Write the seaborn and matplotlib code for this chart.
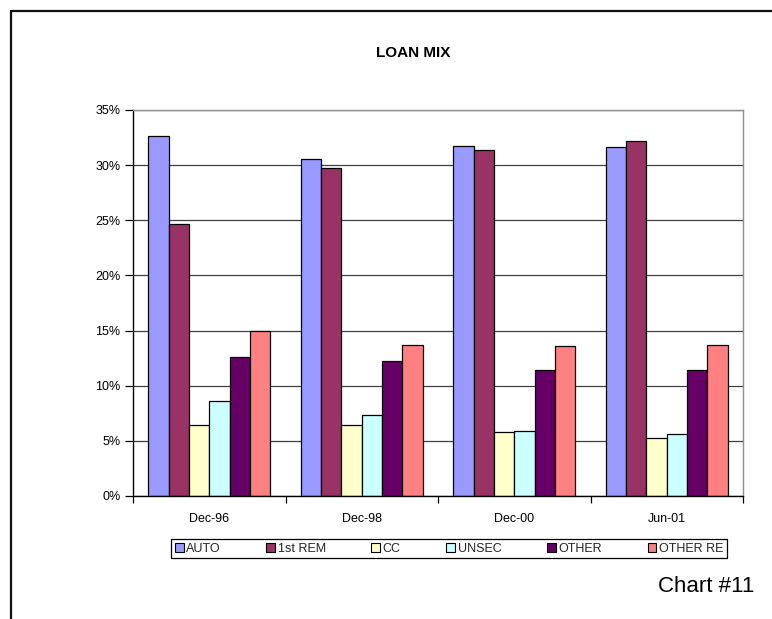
import matplotlib
matplotlib.use("Agg")
import matplotlib.pyplot as plt
import seaborn as sns
import pandas as pd
from matplotlib.patches import Patch
from matplotlib.lines import Line2D
from matplotlib.ticker import FuncFormatter, FixedLocator

# Loan portfolio composition by reporting period (percent of total loans)
periods = ["Dec-96", "Dec-98", "Dec-00", "Jun-01"]
loan_types = ["AUTO", "1st REM", "CC", "UNSEC", "OTHER", "OTHER RE"]
auto = [32.6, 30.6, 31.7, 31.6]
first_rem = [24.7, 29.7, 31.4, 32.2]
cc = [6.4, 6.4, 5.8, 5.3]
unsec = [8.6, 7.3, 5.9, 5.6]
other = [12.6, 12.2, 11.4, 11.4]
other_re = [15.0, 13.7, 13.6, 13.7]
y_ticks = [0, 5, 10, 15, 20, 25, 30, 35]
colors = ["#9999FF", "#993366", "#FFFFCC", "#CCFFFF", "#660066", "#FF8080"]

series = [auto, first_rem, cc, unsec, other, other_re]
rows = []
for name, vals in zip(loan_types, series):
    for p, v in zip(periods, vals):
        rows.append({"period": p, "type": name, "share": v})
df = pd.DataFrame(rows)

sns.set_theme(style="white")
plt.rcParams["font.family"] = ["Liberation Sans", "DejaVu Sans"]

W, H = 772, 619
fig = plt.figure(figsize=(W / 100, H / 100), dpi=100)
fig.patch.set_facecolor("white")

# plot area in pixel units converted to figure fractions
px_left, px_right, px_top, px_bottom = 133, 743, 110, 496
ax = fig.add_axes([px_left / W, 1 - px_bottom / H,
                   (px_right - px_left) / W, (px_bottom - px_top) / H])

sns.barplot(data=df, x="period", y="share", hue="type",
            order=periods, hue_order=loan_types, palette=colors,
            saturation=1, edgecolor="black", linewidth=0.9,
            width=0.8, gap=0, errorbar=None, legend=False, ax=ax)

ax.set_xlim(-0.5, len(periods) - 0.5)
ax.set_ylim(y_ticks[0], y_ticks[-1])
ax.set_yticks(y_ticks)
ax.yaxis.set_major_formatter(FuncFormatter(lambda v, _: f"{v:.0f}%"))
ax.set_xlabel("")
ax.set_ylabel("")

ax.set_axisbelow(True)
ax.yaxis.grid(True, color="#404040", linewidth=0.9)
ax.xaxis.grid(False)

for side in ("left", "bottom"):
    ax.spines[side].set_color("black")
    ax.spines[side].set_linewidth(1.0)
for side in ("top", "right"):
    ax.spines[side].set_color("#909090")
    ax.spines[side].set_linewidth(1.0)
    ax.spines[side].set_visible(True)

ax.tick_params(axis="y", which="major", direction="out", length=6,
               width=0.9, color="black", pad=3, labelsize=9, labelcolor="black",
               left=True)
ax.tick_params(axis="x", which="major", length=0, pad=12, labelsize=9,
               labelcolor="black")
# tick marks between categories
ax.xaxis.set_minor_locator(FixedLocator([i - 0.5 for i in range(len(periods) + 1)]))
ax.tick_params(axis="x", which="minor", direction="out", length=5,
               width=0.9, color="black", bottom=True)

# chart title
fig.text(413 / W, 1 - 53 / H, "LOAN MIX", ha="center", va="center",
         fontsize=11, fontweight="bold", color="black")

# legend below plot
handles = [Patch(facecolor=c, edgecolor="black", linewidth=0.8) for c in colors]
leg = fig.legend(handles, loan_types, loc="center", ncol=len(loan_types),
                 bbox_to_anchor=(171 / W, 1 - 559 / H, (727 - 171) / W, 21 / H),
                 mode="expand", borderaxespad=0, frameon=True, fancybox=False,
                 edgecolor="black", framealpha=1, fontsize=9,
                 handlelength=0.7, handleheight=0.7, handletextpad=0.2,
                 borderpad=0.3)
leg.get_frame().set_linewidth(0.9)

# chart number caption
fig.text(754 / W, 1 - 592 / H, "Chart #11", ha="right", va="baseline",
         fontsize=16, color="black")

# page frame lines
fig.add_artist(Line2D([10.5 / W, 1], [1 - 11 / H, 1 - 11 / H],
                      transform=fig.transFigure, color="#111111", linewidth=1.6))
fig.add_artist(Line2D([10.5 / W, 10.5 / W], [0, 1 - 11 / H],
                      transform=fig.transFigure, color="#111111", linewidth=1.6))

fig.savefig("out.png", dpi=100, facecolor="white")
